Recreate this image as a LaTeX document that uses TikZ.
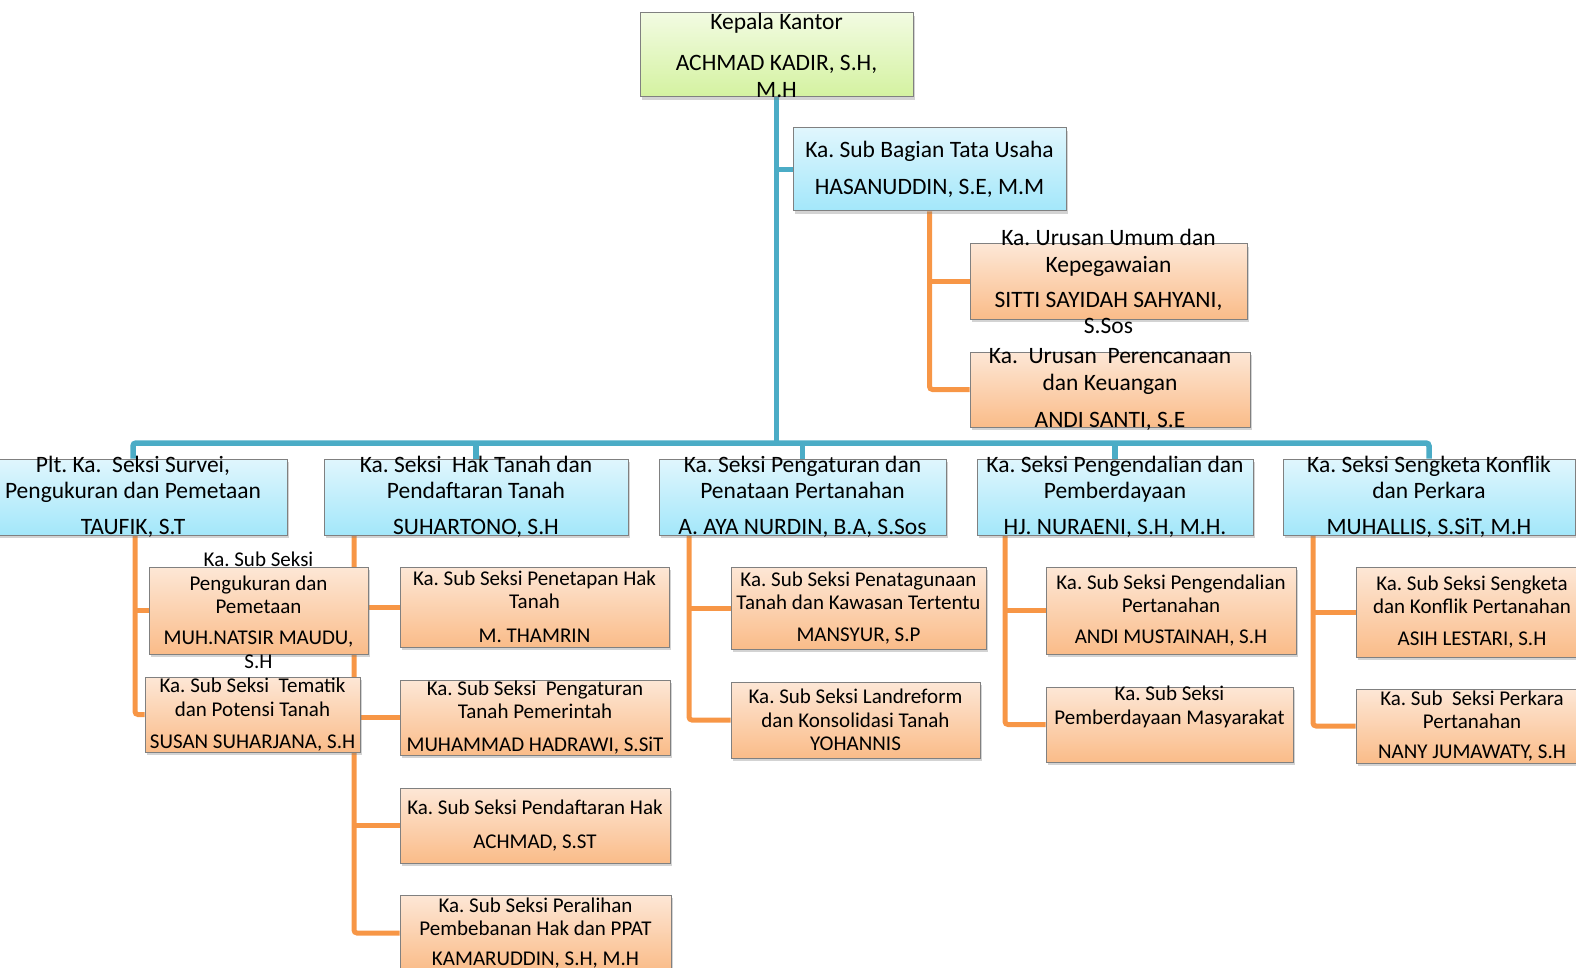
\documentclass[tikz,border=0pt]{standalone}
\usepackage{fontspec}
\setmainfont{Carlito}
\frenchspacing
\usetikzlibrary{shadows,backgrounds}
\definecolor{lnb}{RGB}{75,172,198}
\definecolor{lno}{RGB}{247,150,70}
\definecolor{gtop}{RGB}{242,251,226}
\definecolor{gbot}{RGB}{212,242,160}
\definecolor{btop}{RGB}{224,246,253}
\definecolor{bbot}{RGB}{163,231,250}
\definecolor{otop}{RGB}{253,231,214}
\definecolor{obot}{RGB}{250,188,137}
\begin{document}
\begin{tikzpicture}[x=1pt,y=-1pt,
 bx/.style={draw=black!50,line width=1,inner sep=0,minimum height=75,
  drop shadow={shadow xshift=2,shadow yshift=3,opacity=.35}},
 kb/.style={bx,top color=gtop,bottom color=gbot},
 sb/.style={bx,top color=btop,bottom color=bbot},
 ub/.style={bx,top color=otop,bottom color=obot},
 tx/.style={align=center,inner sep=0,font=\fontsize{23.5}{26.5}\selectfont},
 ts/.style={align=center,inner sep=0,font=\fontsize{21}{23.5}\selectfont},
 bl/.style={draw=lnb,line width=5.5,rounded corners=3},
 ol/.style={draw=lno,line width=5,rounded corners=3}]
\useasboundingbox (0,0) rectangle (1576,968);
\clip (0,0) rectangle (1576,968);
% kantor dan tata usaha
\node[kb,minimum width=273,minimum height=84](kepala) at (776.5,55){};
\node[sb,minimum width=273,minimum height=83](tata) at (929.5,169.5){};
\node[ub,minimum width=277](umum) at (1108.5,281.5){};
\node[ub,minimum width=280](rencana) at (1110,389.5){};
% seksi
\node[sb,minimum width=308,minimum height=76](s1) at (133,497){};
\node[sb,minimum width=304,minimum height=76](s2) at (476,497){};
\node[sb,minimum width=287,minimum height=76](s3) at (802.5,497){};
\node[sb,minimum width=276,minimum height=76](s4) at (1115,497){};
\node[sb,minimum width=292,minimum height=76](s5) at (1429,497){};
% sub seksi
\node[ub,minimum width=219,minimum height=87](ukur) at (258.5,610.5){};
\node[ub,minimum width=215](tematik) at (252.5,714.5){};
\node[ub,minimum width=269,minimum height=80](tetap) at (534.5,607){};
\node[ub,minimum width=270](atur) at (535,717.5){};
\node[ub,minimum width=270](daftar) at (535,825.5){};
\node[ub,minimum width=271,minimum height=76](alih) at (535.5,933){};
\node[ub,minimum width=255,minimum height=82](guna) at (858.5,608){};
\node[ub,minimum width=249,minimum height=76](landref) at (855.5,720){};
\node[ub,minimum width=250,minimum height=87](kendali) at (1171,610.5){};
\node[ub,minimum width=247](daya) at (1169.5,724.5){};
\node[ub,minimum width=232,minimum height=90](sengketa) at (1472,612){};
\node[ub,minimum width=232,minimum height=74](perkara) at (1472,726){};
% teks
\node[tx](kepala-t) at (kepala){Kepala Kantor\\[15pt]ACHMAD KADIR, S.H,\\M.H};
\node[tx](tata-t) at (tata){Ka. Sub Bagian Tata Usaha\\[10.5pt]HASANUDDIN, S.E, M.M};
\node[tx](umum-t) at (umum){Ka. Urusan Umum dan\\Kepegawaian\\[8.5pt]SITTI SAYIDAH SAHYANI,\\S.Sos};
\node[tx](rencana-t) at (rencana){Ka.\ \ Urusan\ \ Perencanaan\\dan Keuangan\\[10.5pt]ANDI SANTI, S.E};
\node[tx](s1-t) at (s1){Plt. Ka.\ \ Seksi Survei,\\Pengukuran dan Pemetaan\\[9.5pt]TAUFIK, S.T};
\node[tx](s2-t) at (s2){Ka. Seksi\ \ Hak Tanah dan\\Pendaftaran Tanah\\[9.5pt]SUHARTONO, S.H};
\node[tx](s3-t) at (s3){Ka. Seksi Pengaturan dan\\Penataan Pertanahan\\[9.5pt]A. AYA NURDIN, B.A, S.Sos};
\node[tx](s4-t) at (s4){Ka. Seksi Pengendalian dan\\Pemberdayaan\\[9.5pt]HJ. NURAENI, S.H, M.H.};
\node[tx](s5-t) at (s5){Ka. Seksi Sengketa Konflik\\dan Perkara\\[9.5pt]MUHALLIS, S.SiT, M.H};
\node[ts](ukur-t) at (ukur){Ka. Sub Seksi\\Pengukuran dan\\Pemetaan\\[7.5pt]MUH.NATSIR MAUDU,\\S.H};
\node[ts](tematik-t) at (tematik){Ka. Sub Seksi\ \ Tematik\\dan Potensi Tanah\\[8.5pt]SUSAN SUHARJANA, S.H};
\node[ts](tetap-t) at (tetap){Ka. Sub Seksi Penetapan Hak\\Tanah\\[10.5pt]M. THAMRIN};
\node[ts](atur-t) at (atur){Ka. Sub Seksi\ \ Pengaturan\\Tanah Pemerintah\\[9.5pt]MUHAMMAD HADRAWI, S.SiT};
\node[ts](daftar-t) at (daftar){Ka. Sub Seksi Pendaftaran Hak\\[10.5pt]ACHMAD, S.ST};
\node[ts](alih-t) at (alih){Ka. Sub Seksi Peralihan\\Pembebanan Hak dan PPAT\\[6.5pt]KAMARUDDIN, S.H, M.H};
\node[ts](guna-t) at (guna){Ka. Sub Seksi Penatagunaan\\Tanah dan Kawasan Tertentu\\[8.5pt]MANSYUR, S.P};
\node[ts](landref-t) at (landref){Ka. Sub Seksi Landreform\\dan Konsolidasi Tanah\\YOHANNIS};
\node[ts](kendali-t) at (kendali){Ka. Sub Seksi Pengendalian\\Pertanahan\\[7.5pt]ANDI MUSTAINAH, S.H};
\node[ts](daya-t) at (daya){Ka. Sub Seksi\\Pemberdayaan Masyarakat\\[8pt]\strut};
\node[ts](sengketa-t) at (sengketa){Ka. Sub Seksi Sengketa\\dan Konflik Pertanahan\\[8.5pt]ASIH LESTARI, S.H};
\node[ts](perkara-t) at (perkara){Ka. Sub\ \ Seksi Perkara\\Pertanahan\\[6.5pt]NANY JUMAWATY, S.H};
% garis
\coordinate (bus) at (777,443);
\coordinate (c1) at (135,497);\coordinate (c2) at (354,497);\coordinate (c3) at (689,497);
\coordinate (c4) at (1005,497);\coordinate (c5) at (1313,497);
\begin{scope}[on background layer]
\draw[bl](kepala)--(kepala|-bus);\draw[bl](kepala|-tata)--(tata);
\draw[bl](s1)|-(bus)-|(s5);
\foreach \n in {s2,s3,s4}\draw[bl](\n|-bus)--(\n);
\draw[ol](tata)|-(rencana);\draw[ol](tata|-umum)--(umum);
\draw[ol](c1)|-(tematik);\draw[ol](c1|-ukur)--(ukur);
\draw[ol](c2)|-(alih);\foreach \n in {tetap,atur,daftar}\draw[ol](c2|-\n)--(\n);
\draw[ol](c3)|-(landref);\draw[ol](c3|-guna)--(guna);
\draw[ol](c4)|-(daya);\draw[ol](c4|-kendali)--(kendali);
\draw[ol](c5)|-(perkara);\draw[ol](c5|-sengketa)--(sengketa);
\end{scope}
\end{tikzpicture}
\end{document}
